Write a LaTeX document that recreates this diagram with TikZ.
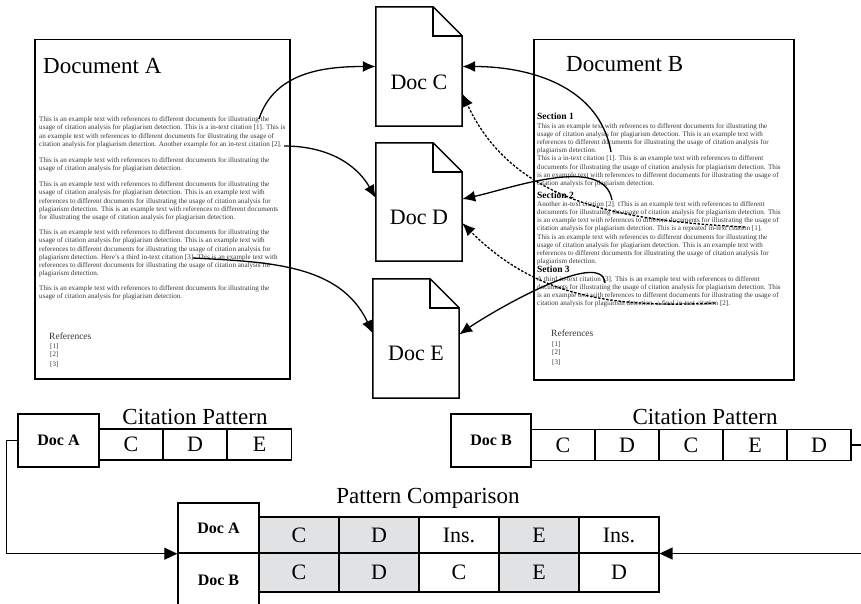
\documentclass[tikz,border=0pt]{standalone}
\usepackage{fontspec}
\setmainfont{Liberation Serif}
\usetikzlibrary{arrows.meta}
\definecolor{txtgray}{HTML}{383838}
\definecolor{cellgray}{HTML}{E1E2E4}
\begin{document}
\begin{tikzpicture}[x=1pt,y=-1pt,
  pagebox/.style={draw, line width=1.5pt, inner sep=0, anchor=north west},
  body/.style={align=left, inner sep=0, anchor=north west, text=txtgray, font=\fontsize{7.1}{8.2}\selectfont},
  sechead/.style={inner sep=0, anchor=base west, font=\bfseries\fontsize{9.5}{10}\selectfont},
  doctitle/.style={inner sep=0, anchor=base west, font=\fontsize{23}{26}\selectfont},
  reftitle/.style={inner sep=0, anchor=base west, text=txtgray, font=\fontsize{9.5}{10}\selectfont},
  refitem/.style={inner sep=0, anchor=base west, text=txtgray, font=\fontsize{7}{7}\selectfont},
  docshape/.style={minimum width=86pt, minimum height=119pt, inner sep=0},
  doclbl/.style={font=\fontsize{22}{26}\selectfont, inner sep=0},
  docline/.style={line width=1.5pt, line join=miter},
  cite/.style={line width=1.3pt, -{Latex[length=13pt,width=11pt]}},
  dcite/.style={cite, dash pattern=on 2.5pt off 1.6pt},
  lblbox/.style={draw, line width=1.4pt, font=\bfseries\fontsize{16}{18}\selectfont, minimum width=81pt, minimum height=53pt, inner sep=0},
  cell/.style={draw, line width=1.1pt, minimum width=64pt, minimum height=31pt, inner sep=0, font=\fontsize{22}{24}\selectfont},
  ccell/.style={cell, minimum width=80pt},
  gcell/.style={ccell, fill=cellgray},
  head/.style={font=\fontsize{23}{26}\selectfont, inner sep=0},
  flow/.style={line width=1.2pt, -{Triangle[length=13pt,width=12pt]}}
]
\useasboundingbox (0,0) rectangle (861,604);
\clip (0,0) rectangle (861,604);

% ---------------- Document A ----------------
\node[pagebox, minimum width=255pt, minimum height=339pt] (pageA) at (34,39) {};
\node[doctitle] (titleA) at (43,74) {Document A};
\node[body] (pA1) at (39,116.5) {This is an example text with references to different documents for illustrating the\\
usage of citation analysis for plagiarism detection. This is a in-text citation [1]. This is\\
an example text with references to different documents for illustrating the usage of\\
citation analysis for plagiarism detection. Another example for an in-text citation [2].};
\node[body] (pA2) at (39,157.5) {This is an example text with references to different documents for illustrating the\\
usage of citation analysis for plagiarism detection.};
\node[body] (pA3) at (39,181.5) {This is an example text with references to different documents for illustrating the\\
usage of citation analysis for plagiarism detection. This is an example text with\\
references to different documents for illustrating the usage of citation analysis for\\
plagiarism detection. This is an example text with references to different documents\\
for illustrating the usage of citation analysis for plagiarism detection.};
\node[body] (pA4) at (39,229.5) {This is an example text with references to different documents for illustrating the\\
usage of citation analysis for plagiarism detection. This is an example text with\\
references to different documents for illustrating the usage of citation analysis for\\
plagiarism detection. Here's a third in-text citation [3]. This is an example text with\\
references to different documents for illustrating the usage of citation analysis for\\
plagiarism detection.};
\node[body] (pA5) at (39,285.5) {This is an example text with references to different documents for illustrating the\\
usage of citation analysis for plagiarism detection.};
\node[reftitle] (refA) at (49,339) {References};
\node[refitem] (refA1) at (50,348) {[1]};
\node[refitem] (refA2) at (50,356) {[2]};
\node[refitem] (refA3) at (50,366) {[3]};
\coordinate (cA1) at (259,119);
\coordinate (cA2) at (284,146);
\coordinate (cA3) at (193,258);

% ---------------- Document B ----------------
\node[pagebox, minimum width=260pt, minimum height=340pt] (pageB) at (533,39) {};
\node[doctitle] (titleB) at (566,72) {Document B};
\node[sechead] (s1) at (537,120) {Section 1};
\node[body] (pB1) at (537,123) {This is an example text with references to different documents for illustrating the\\
usage of citation analysis for plagiarism detection. This is an example text with\\
references to different documents for illustrating the usage of citation analysis for\\
plagiarism detection.\\
This is a in-text citation [1]. This is an example text with references to different\\
documents for illustrating the usage of citation analysis for plagiarism detection. This\\
is an example text with references to different documents for illustrating the usage of\\
citation analysis for plagiarism detection.};
\node[sechead] (s2) at (537,198) {Section 2};
\node[body] (pB2) at (537,201) {Another in-text citation [2]. tThis is an example text with references to different\\
documents for illustrating the usage of citation analysis for plagiarism detection. This\\
is an example text with references to different documents for illustrating the usage of\\
citation analysis for plagiarism detection. This is a repeated in-text citation [1].\\
This is an example text with references to different documents for illustrating the\\
usage of citation analysis for plagiarism detection. This is an example text with\\
references to different documents for illustrating the usage of citation analysis for\\
plagiarism detection.};
\node[sechead] (s3) at (537,272) {Setion 3};
\node[body] (pB3) at (537,276) {A third in-text citation [3]. This is an example text with references to different\\
documents for illustrating the usage of citation analysis for plagiarism detection. This\\
is an example text with references to different documents for illustrating the usage of\\
citation analysis for plagiarism detection. a final in-text citation [2].};
\node[reftitle] (refB) at (551,336) {References};
\node[refitem] (refB1) at (552,346) {[1]};
\node[refitem] (refB2) at (552,354) {[2]};
\node[refitem] (refB3) at (552,364) {[3]};
\coordinate (cB1) at (611,152);
\coordinate (cB2) at (612,200);
\coordinate (cB3) at (605,283);
\coordinate (dB1) at (745,227);
\coordinate (dB2) at (715,303);

% ---------------- Cited documents ----------------
\node[docshape] (docC) at (419,66.5) {};
\node[doclbl] (docClbl) at (419,82) {Doc C};
\node[docshape, minimum height=118pt] (docD) at (419,202) {};
\node[doclbl] (docDlbl) at (419,217) {Doc D};
\node[docshape] (docE) at (416,338.5) {};
\node[doclbl] (docElbl) at (416,353) {Doc E};
\foreach \d in {docC,docD,docE}{
  \draw[docline] (\d.south west) -- (\d.north west) -- ([xshift=-29pt]\d.north east)
    -- ([yshift=-29pt]\d.north east) -- (\d.south east) -- cycle;
  \draw[docline] ([xshift=-29pt]\d.north east) |- ([yshift=-29pt]\d.north east);
}

% ---------------- Citation connectors ----------------
\draw[cite] (cA1) to[out=72,in=180] (docC.west);
\draw[cite] (cA2) to[out=0,in=120] ([yshift=4pt]docD.west);
\draw[cite] (cA3) to[out=-3,in=115] ([yshift=5pt]docE.west);
\draw[cite] (cB1) to[out=100,in=0] (docC.east);
\draw[cite] (cB2) to[out=100,in=12,looseness=0.8] ([yshift=3pt]docD.east);
\draw[cite] (cB3) to[out=95,in=35,looseness=0.6] ([yshift=4pt]docE.east);
\draw[dcite] (dB1) to[out=177,in=-65] ([yshift=-27pt]docC.east);
\draw[dcite] (dB2) to[out=183,in=-45] ([yshift=-21pt]docD.east);

% ---------------- Citation patterns ----------------
\node[lblbox] (patA) at (58.5,440.5) {Doc A};
\node[cell] (pa1) at (131,444.5) {C};
\node[cell] (pa2) at (195,444.5) {D};
\node[cell] (pa3) at (259.5,444.5) {E};
\node[head] (cpA) at (195,417) {Citation Pattern};

\node[lblbox, minimum width=80pt] (patB) at (491,440.5) {Doc B};
\node[cell] (pb1) at (563,445) {C};
\node[cell] (pb2) at (627,445) {D};
\node[cell] (pb3) at (691,445) {C};
\node[cell] (pb4) at (755,445) {E};
\node[cell] (pb5) at (819,445) {D};
\node[head] (cpB) at (705,417) {Citation Pattern};

% ---------------- Pattern comparison ----------------
\node[head] (pc) at (428,498) {Pattern Comparison};
\node[lblbox, minimum height=50pt] (cmpA) at (218.5,528) {Doc A};
\node[lblbox, minimum height=55pt] (cmpB) at (218.5,580.5) {Doc B};
\node[gcell, minimum height=36pt] (ra1) at (299,535) {C};
\node[gcell, minimum height=36pt] (ra2) at (379,535) {D};
\node[ccell, minimum height=36pt] (ra3) at (459,535) {Ins.};
\node[gcell, minimum height=36pt] (ra4) at (539,535) {E};
\node[ccell, minimum height=36pt] (ra5) at (619,535) {Ins.};
\node[gcell, minimum height=39pt] (rb1) at (299,572.5) {C};
\node[gcell, minimum height=39pt] (rb2) at (379,572.5) {D};
\node[ccell, minimum height=39pt] (rb3) at (459,572.5) {C};
\node[gcell, minimum height=39pt] (rb4) at (539,572.5) {E};
\node[ccell, minimum height=39pt] (rb5) at (619,572.5) {D};

\draw[flow] (patA.west) -- ++(-11,0) |- (cmpA.south west);
\draw[flow] (pb5.east) -- ++(20,0) |- (ra5.south east);
\end{tikzpicture}
\end{document}
